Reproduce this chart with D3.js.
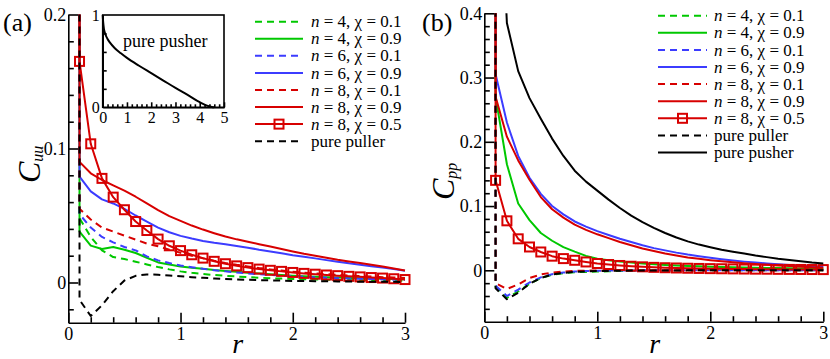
<!DOCTYPE html>
<html>
<head>
<meta charset="utf-8">
<script src="https://cdn.jsdelivr.net/npm/d3@7"></script>
<style>
  body { margin: 0; background: #fff; }
  svg { display: block; font-family: 'Liberation Serif', 'Times New Roman', serif; }
  text { font-family: 'Liberation Serif', 'Times New Roman', serif; fill: #000; }
</style>
</head>
<body>
<svg id="fig" width="830" height="359"></svg>
<script>
// shared r grid (first point is the clipped spike just left of r = 0.1)
const rGrid = [0.09, 0.1, 0.2, 0.3, 0.4, 0.5, 0.6, 0.7, 0.8, 0.9, 1.0, 1.1, 1.2, 1.3, 1.4, 1.5,
  1.6, 1.7, 1.8, 1.9, 2.0, 2.1, 2.2, 2.3, 2.4, 2.5, 2.6, 2.7, 2.8, 2.9, 3.0]

// panel (a): C_uu
const uuN4Chi01 = [5, 0.048, 0.034, 0.024, 0.019, 0.0175, 0.0155, 0.0135, 0.0115, 0.0098, 0.0083, 0.0072, 0.0063, 0.0056, 0.005, 0.0045, 0.004, 0.0036, 0.0032, 0.0029, 0.0026, 0.0024, 0.0022, 0.002, 0.0019, 0.0018, 0.0017, 0.0016, 0.0015, 0.0014, 0.0013]
const uuN4Chi09 = [5, 0.038, 0.0275, 0.025, 0.0265, 0.0245, 0.022, 0.0185, 0.015, 0.0135, 0.012, 0.011, 0.0102, 0.0093, 0.0086, 0.008, 0.0073, 0.0067, 0.0061, 0.0056, 0.0051, 0.0047, 0.0043, 0.004, 0.0037, 0.0034, 0.0032, 0.003, 0.0028, 0.0026, 0.0025]
const uuN6Chi01 = [5, 0.051, 0.041, 0.034, 0.030, 0.0265, 0.024, 0.0195, 0.0165, 0.0145, 0.0127, 0.0114, 0.0102, 0.0092, 0.0083, 0.0075, 0.0068, 0.0062, 0.0056, 0.0051, 0.0046, 0.0042, 0.0038, 0.0035, 0.0032, 0.003, 0.0028, 0.0026, 0.0024, 0.0022, 0.0021]
const uuN6Chi09 = [5, 0.079, 0.068, 0.062, 0.059, 0.055, 0.050, 0.0455, 0.041, 0.0375, 0.0348, 0.0328, 0.031, 0.0296, 0.0285, 0.0272, 0.026, 0.0245, 0.0232, 0.0218, 0.0204, 0.0192, 0.018, 0.0167, 0.0155, 0.0143, 0.0133, 0.0122, 0.0111, 0.0100, 0.0088]
const uuN8Chi01 = [5, 0.055, 0.047, 0.041, 0.038, 0.035, 0.032, 0.029, 0.027, 0.0245, 0.0222, 0.020, 0.018, 0.0162, 0.0146, 0.0132, 0.012, 0.0108, 0.0098, 0.0089, 0.0081, 0.0074, 0.0068, 0.0062, 0.0057, 0.0052, 0.0048, 0.0044, 0.004, 0.0037, 0.0034]
const uuN8Chi09 = [5, 0.090, 0.0815, 0.0765, 0.0725, 0.0685, 0.064, 0.059, 0.054, 0.0495, 0.046, 0.0425, 0.0395, 0.0368, 0.0343, 0.0322, 0.0304, 0.0286, 0.0268, 0.025, 0.0232, 0.0215, 0.02, 0.0185, 0.017, 0.0157, 0.0145, 0.0133, 0.012, 0.0105, 0.009]
const uuN8Chi05 = [5, 0.165, 0.1035, 0.0777, 0.0637, 0.0543, 0.0455, 0.0388, 0.0324, 0.0274, 0.0238, 0.0207, 0.0182, 0.0158, 0.014, 0.0124, 0.0111, 0.01, 0.0091, 0.0083, 0.0075, 0.0068, 0.0062, 0.0056, 0.0051, 0.0046, 0.0042, 0.0037, 0.0033, 0.0028, 0.0022]
const uuPuller = [5, -0.013, -0.025, -0.017, -0.0065, 0.0015, 0.005, 0.006, 0.0058, 0.0052, 0.0046, 0.004, 0.0035, 0.003, 0.0026, 0.0023, 0.002, 0.0018, 0.0016, 0.0014, 0.0012, 0.0011, 0.001, 0.0009, 0.0008, 0.0007, 0.0006, 0.0006, 0.0005, 0.0005, 0.0004]

// inset of (a): pure pusher
const insetR = [0, 0.02, 0.05, 0.1, 0.2, 0.3, 0.5, 0.75, 1.0, 1.5, 2.0, 2.5, 3.0, 3.5, 4.0, 4.3, 4.5, 4.6]
const insetV = [1, 0.92, 0.85, 0.8, 0.74, 0.7, 0.64, 0.585, 0.535, 0.45, 0.37, 0.29, 0.21, 0.135, 0.055, 0.018, 0.003, 0]

// panel (b): C_pp
const ppN4Chi01 = [5, -0.026, -0.043, -0.033, -0.021, -0.012, -0.007, -0.0045, -0.003, -0.0025, -0.002, -0.0015, -0.001, -0.0007, -0.0004, -0.0002, -0.0001, 0, 0, 0, 0, 0, 0, 0, 0, 0, 0, 0, 0, 0, 0]
const ppN4Chi09 = [5, 0.27, 0.165, 0.104, 0.078, 0.058, 0.046, 0.036, 0.029, 0.0225, 0.018, 0.0155, 0.0135, 0.012, 0.0105, 0.0093, 0.0083, 0.0075, 0.0068, 0.0062, 0.0056, 0.0051, 0.0047, 0.0043, 0.004, 0.0037, 0.0034, 0.0031, 0.0029, 0.0027, 0.0025]
const ppN6Chi01 = [5, -0.024, -0.040, -0.030, -0.019, -0.011, -0.006, -0.0035, -0.002, -0.0012, -0.0008, -0.0005, -0.0003, -0.0002, -0.0001, 0, 0, 0, 0, 0, 0, 0, 0, 0, 0, 0, 0, 0, 0, 0, 0]
const ppN6Chi09 = [5, 0.305, 0.23, 0.178, 0.144, 0.119, 0.1, 0.087, 0.076, 0.068, 0.061, 0.055, 0.049, 0.044, 0.039, 0.0345, 0.031, 0.0275, 0.0245, 0.022, 0.0195, 0.0172, 0.0152, 0.0135, 0.012, 0.0106, 0.0093, 0.0082, 0.0072, 0.0063, 0.0055]
const ppN8Chi01 = [5, -0.02, -0.029, -0.022, -0.012, -0.0065, -0.0035, -0.002, -0.001, -0.0005, -0.0002, 0, 0, 0, 0, 0, 0, 0, 0, 0, 0, 0, 0, 0, 0, 0, 0, 0, 0, 0, 0]
const ppN8Chi09 = [5, 0.27, 0.208, 0.171, 0.141, 0.114, 0.095, 0.082, 0.071, 0.063, 0.056, 0.050, 0.044, 0.039, 0.034, 0.030, 0.026, 0.023, 0.020, 0.0178, 0.0158, 0.014, 0.0124, 0.011, 0.0097, 0.0085, 0.0075, 0.0065, 0.0056, 0.0048, 0.004]
const ppN8Chi05 = [5, 0.14, 0.077, 0.049, 0.0363, 0.0285, 0.022, 0.0182, 0.0156, 0.013, 0.0106, 0.009, 0.0075, 0.0063, 0.0054, 0.0046, 0.004, 0.0036, 0.0032, 0.0029, 0.0026, 0.0024, 0.0022, 0.002, 0.0018, 0.0017, 0.0015, 0.0014, 0.0013, 0.0012, 0.0011]
const ppPuller = [5, -0.028, -0.045, -0.035, -0.021, -0.012, -0.0065, -0.004, -0.0025, -0.0017, -0.0012, -0.0009, -0.0007, -0.0005, -0.0004, -0.0003, -0.0002, -0.0002, -0.0001, -0.0001, -0.0001, 0, 0, 0, 0, 0, 0, 0, 0, 0, 0]
const ppPusher = [5, 0.75, 0.385, 0.31, 0.268, 0.236, 0.205, 0.178, 0.155, 0.138, 0.124, 0.11, 0.097, 0.085, 0.075, 0.066, 0.058, 0.051, 0.045, 0.040, 0.036, 0.032, 0.029, 0.026, 0.023, 0.0205, 0.018, 0.016, 0.014, 0.012, 0.0105]

// ticks
const xMajor = [0, 1, 2, 3]
const xMinor = [0.2, 0.4, 0.6, 0.8, 1.2, 1.4, 1.6, 1.8, 2.2, 2.4, 2.6, 2.8]
const yMajorA = [0, 0.1, 0.2]
const yMinorA = [-0.02, 0.02, 0.04, 0.06, 0.08, 0.12, 0.14, 0.16, 0.18]
const yMajorB = [0, 0.1, 0.2, 0.3, 0.4]
const yMinorB = [-0.06, -0.04, -0.02, 0.02, 0.04, 0.06, 0.08, 0.12, 0.14, 0.16, 0.18,
  0.22, 0.24, 0.26, 0.28, 0.32, 0.34, 0.36, 0.38]
const insetXMajor = [0, 1, 2, 3, 4, 5]
const insetXMinor = [0.2, 0.4, 0.6, 0.8, 1.2, 1.4, 1.6, 1.8, 2.2, 2.4, 2.6, 2.8, 3.2, 3.4, 3.6, 3.8, 4.2, 4.4, 4.6, 4.8]
const insetYMinor = [0.2, 0.4, 0.6, 0.8]

const GREEN = '#00c800', BLUE = '#3c3cff', RED = '#d70000'
const SERIF = "'Liberation Serif', 'Times New Roman', serif"

const seriesA = [
  { values: uuN4Chi01, n: '4', chi: '0.1', color: GREEN, dashed: true },
  { values: uuN4Chi09, n: '4', chi: '0.9', color: GREEN },
  { values: uuN6Chi01, n: '6', chi: '0.1', color: BLUE, dashed: true },
  { values: uuN6Chi09, n: '6', chi: '0.9', color: BLUE },
  { values: uuN8Chi01, n: '8', chi: '0.1', color: RED, dashed: true },
  { values: uuN8Chi09, n: '8', chi: '0.9', color: RED },
  { values: uuN8Chi05, n: '8', chi: '0.5', color: RED, marker: true },
  { values: uuPuller, name: 'pure puller', color: '#000', dashed: true },
]
const seriesB = [
  { values: ppN4Chi01, n: '4', chi: '0.1', color: GREEN, dashed: true },
  { values: ppN4Chi09, n: '4', chi: '0.9', color: GREEN },
  { values: ppN6Chi01, n: '6', chi: '0.1', color: BLUE, dashed: true },
  { values: ppN6Chi09, n: '6', chi: '0.9', color: BLUE },
  { values: ppN8Chi01, n: '8', chi: '0.1', color: RED, dashed: true },
  { values: ppN8Chi09, n: '8', chi: '0.9', color: RED },
  { values: ppN8Chi05, n: '8', chi: '0.5', color: RED, marker: true },
  { values: ppPuller, name: 'pure puller', color: '#000', dashed: true },
  { values: ppPusher, name: 'pure pusher', color: '#000' },
]

const svg = d3.select('#fig')

function fmt(d) { return d === 0 ? '0' : String(d) }

function styleAxis(g, size) {
  g.attr('font-family', SERIF).attr('font-size', size)
  g.selectAll('text').style('font-family', SERIF).style('font-size', size + 'px')
  g.selectAll('line, path').attr('stroke', '#000').attr('stroke-width', 1.6)
}

function drawPanel(p) {
  const x = d3.scaleLinear().domain([0, 3]).range([p.left, p.right])
  const y = d3.scaleLinear().domain(p.yDomain).range([p.bottom, p.top])

  svg.append('clipPath').attr('id', p.id + '-clip')
    .append('rect')
    .attr('x', p.left).attr('y', p.top)
    .attr('width', 830 - p.left).attr('height', p.bottom - p.top)

  const g = svg.append('g')
  const line = d3.line().x((d, i) => x(rGrid[i])).y(d => y(d))

  p.series.forEach(s => {
    g.append('path')
      .datum(s.values)
      .attr('d', line)
      .attr('clip-path', `url(#${p.id}-clip)`)
      .attr('fill', 'none')
      .attr('stroke', s.color)
      .attr('stroke-width', 2)
      .attr('stroke-linejoin', 'round')
      .attr('stroke-dasharray', s.dashed ? '7,5' : null)

    if (s.marker) {
      g.selectAll(null)
        .data(s.values.map((v, i) => [rGrid[i], v]).slice(1))
        .enter().append('rect')
        .attr('x', d => x(d[0]) - 4.5).attr('y', d => y(d[1]) - 4.5)
        .attr('width', 9).attr('height', 9)
        .attr('fill', 'none').attr('stroke', s.color).attr('stroke-width', 2)
    }
  })

  // axes, ticks pointing inward
  const ax = svg.append('g').attr('transform', `translate(0,${p.bottom})`)
    .call(d3.axisBottom(x).tickValues(xMajor).tickSize(-10).tickSizeOuter(0).tickPadding(5).tickFormat(fmt))
  styleAxis(ax, 18)
  const axm = svg.append('g').attr('transform', `translate(0,${p.bottom})`)
    .call(d3.axisBottom(x).tickValues(xMinor).tickSize(-5.5).tickFormat(''))
  axm.select('.domain').remove()
  styleAxis(axm, 18)

  const ay = svg.append('g').attr('transform', `translate(${p.left},0)`)
    .call(d3.axisLeft(y).tickValues(p.yMajor).tickSize(-10).tickSizeOuter(0).tickPadding(2).tickFormat(fmt))
  styleAxis(ay, 18)
  const aym = svg.append('g').attr('transform', `translate(${p.left},0)`)
    .call(d3.axisLeft(y).tickValues(p.yMinor).tickSize(-5.5).tickFormat(''))
  aym.select('.domain').remove()
  styleAxis(aym, 18)

  // axis titles
  svg.append('text')
    .attr('x', (p.left + p.right) / 2 + 1).attr('y', 353)
    .attr('text-anchor', 'middle')
    .style('font-style', 'italic').style('font-size', '28px')
    .text('r')

  const ct = svg.append('text')
    .attr('transform', `translate(${p.cx},${p.cy}) rotate(-90)`)
    .style('font-style', 'italic')
  ct.append('tspan').style('font-size', '32px').text('C')
  ct.append('tspan').style('font-size', '16px').attr('dy', 3).text(p.sub)

  // panel tag
  svg.append('text')
    .attr('x', p.tagX).attr('y', 31)
    .style('font-size', '26px')
    .text(p.tag)

  // legend
  const lg = svg.append('g')
  p.series.forEach((s, i) => {
    const yy = p.legY + i * p.legStep
    lg.append('line')
      .attr('x1', p.legX1).attr('x2', p.legX2).attr('y1', yy).attr('y2', yy)
      .attr('stroke', s.color).attr('stroke-width', 2)
      .attr('stroke-dasharray', s.dashed ? '7,5' : null)
    if (s.marker) {
      lg.append('rect')
        .attr('x', (p.legX1 + p.legX2) / 2 - 4.5).attr('y', yy - 4.5)
        .attr('width', 9).attr('height', 9)
        .attr('fill', 'none').attr('stroke', s.color).attr('stroke-width', 2)
    }
    const t = lg.append('text')
      .attr('x', p.legText).attr('y', yy).attr('dy', '0.33em')
      .style('font-size', '17px')
    if (s.n) {
      t.append('tspan').style('font-style', 'italic').text('n')
      t.append('tspan').text(` = ${s.n}, χ = ${s.chi}`)
    } else {
      t.text(s.name)
    }
  })
}

drawPanel({
  id: 'pa', tag: '(a)', tagX: 3, sub: 'uu',
  left: 68.3, right: 405, top: 14.5, bottom: 322.7,
  yDomain: [-0.03, 0.2], yMajor: yMajorA, yMinor: yMinorA,
  cx: 40, cy: 183,
  series: seriesA,
  legX1: 255, legX2: 303, legText: 311, legY: 21.7, legStep: 17.07,
})

drawPanel({
  id: 'pb', tag: '(b)', tagX: 422, sub: 'pp',
  left: 484.3, right: 823.3, top: 13.3, bottom: 321.7,
  yDomain: [-0.08, 0.4], yMajor: yMajorB, yMinor: yMinorB,
  cx: 454, cy: 200,
  series: seriesB,
  legX1: 658, legX2: 707, legText: 714, legY: 15.7, legStep: 17.1,
})

// inset in panel (a)
const ix = d3.scaleLinear().domain([0, 5]).range([102.7, 224])
const iy = d3.scaleLinear().domain([0, 1]).range([107.3, 15])
const ins = svg.append('g')
ins.append('rect')
  .attr('x', ix(0)).attr('y', iy(1))
  .attr('width', ix(5) - ix(0)).attr('height', iy(0) - iy(1))
  .attr('fill', '#fff').attr('stroke', '#000').attr('stroke-width', 1.6)

const ixa = ins.append('g').attr('transform', `translate(0,${iy(0)})`)
  .call(d3.axisBottom(ix).tickValues(insetXMajor).tickSize(-5).tickSizeOuter(0).tickPadding(4).tickFormat(d => String(d)))
styleAxis(ixa, 16)
const ixm = ins.append('g').attr('transform', `translate(0,${iy(0)})`)
  .call(d3.axisBottom(ix).tickValues(insetXMinor).tickSize(-3).tickFormat(''))
ixm.select('.domain').remove()
styleAxis(ixm, 16)
const iya = ins.append('g').attr('transform', `translate(${ix(0)},0)`)
  .call(d3.axisLeft(iy).tickValues([0, 1]).tickSize(0).tickSizeOuter(0).tickPadding(3).tickFormat(d => String(d)))
styleAxis(iya, 16)
const iym = ins.append('g').attr('transform', `translate(${ix(0)},0)`)
  .call(d3.axisLeft(iy).tickValues(insetYMinor).tickSize(-4).tickFormat(''))
iym.select('.domain').remove()
styleAxis(iym, 16)

ins.append('path')
  .datum(insetR.map((r, i) => [r, insetV[i]]))
  .attr('d', d3.line().x(d => ix(d[0])).y(d => iy(d[1])).curve(d3.curveMonotoneX))
  .attr('fill', 'none').attr('stroke', '#000').attr('stroke-width', 2)

ins.append('text')
  .attr('x', 123).attr('y', 47)
  .style('font-size', '18px')
  .text('pure pusher')
</script>
</body>
</html>
